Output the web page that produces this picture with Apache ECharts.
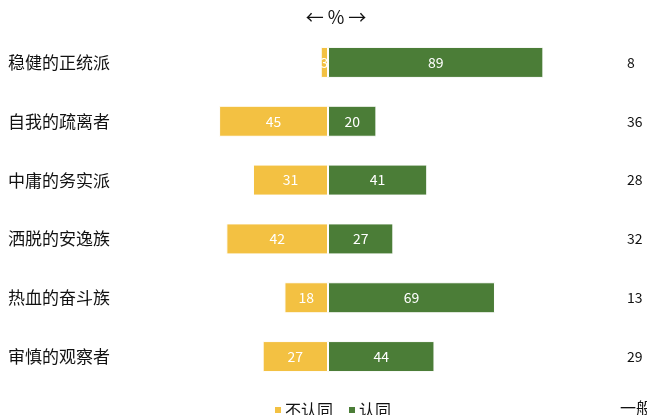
<!DOCTYPE html>
<html>
<head>
<meta charset="utf-8">
<script src="https://cdn.jsdelivr.net/npm/echarts@6/dist/echarts.min.js"></script>
<style>
  html, body { margin: 0; padding: 0; background: #fff; }
  #chart { width: 647px; height: 415px; }
</style>
</head>
<body>
<div id="chart"></div>
<script>
// 分类与数值（%）
const categories = ['稳健的正统派', '自我的疏离者', '中庸的务实派', '洒脱的安逸族', '热血的奋斗族', '审慎的观察者']
const disagreeList = [3, 45, 31, 42, 18, 27]
const agreeList = [89, 20, 41, 27, 69, 44]
const neutralList = [8, 36, 28, 32, 13, 29]

const font = "'Noto Sans CJK SC', 'Noto Sans', sans-serif"
let myChart = echarts.init(document.getElementById('chart'))
let option = {
  animation: false,
  textStyle: { fontFamily: font },
  title: [
    {
      text: '← % →',
      left: 331,
      top: 3,
      textAlign: 'center',
      textStyle: { fontSize: 18, fontWeight: 'normal', color: '#111', fontFamily: font }
    },
    {
      text: '一般',
      left: 631,
      top: 395,
      textAlign: 'center',
      textStyle: { fontSize: 16, fontWeight: 'normal', color: '#111', fontFamily: font }
    }
  ],
  legend: {
    data: ['不认同', '认同'],
    left: 268,
    top: 397,
    icon: 'rect',
    itemWidth: 8,
    itemHeight: 8,
    itemGap: 14,
    textStyle: { fontSize: 16, color: '#111', fontFamily: font, padding: [0, 0, 0, -2] }
  },
  grid: {
    left: 86,
    right: 77,
    top: 33,
    bottom: 29
  },
  xAxis: {
    type: 'value',
    min: -100,
    max: 100,
    show: false
  },
  yAxis: [
    {
      type: 'category',
      inverse: true,
      data: categories,
      position: 'left',
      axisLine: { show: false, onZero: false },
      axisTick: { show: false },
      axisLabel: {
        align: 'left',
        margin: 78,
        fontSize: 17,
        color: '#111',
        fontFamily: font
      }
    },
    {
      type: 'category',
      inverse: true,
      data: neutralList,
      position: 'right',
      axisLine: { show: false, onZero: false },
      axisTick: { show: false },
      axisLabel: {
        align: 'left',
        margin: 57,
        fontSize: 14,
        color: '#111',
        fontFamily: font
      }
    }
  ],
  series: [
    {
      name: '不认同',
      type: 'bar',
      stack: 'total',
      barWidth: 31,
      itemStyle: { color: '#F3C142', borderColor: '#fff', borderWidth: 1 },
      label: {
        show: true,
        position: 'inside',
        color: '#fff',
        fontSize: 14,
        formatter: p => Math.abs(p.value)
      },
      data: disagreeList.map(v => -v)
    },
    {
      name: '认同',
      type: 'bar',
      stack: 'total',
      barWidth: 31,
      itemStyle: { color: '#4B7D37', borderColor: '#fff', borderWidth: 1 },
      label: {
        show: true,
        position: 'inside',
        color: '#fff',
        fontSize: 14
      },
      data: agreeList
    }
  ]
}
myChart.setOption(option)
</script>
</body>
</html>
